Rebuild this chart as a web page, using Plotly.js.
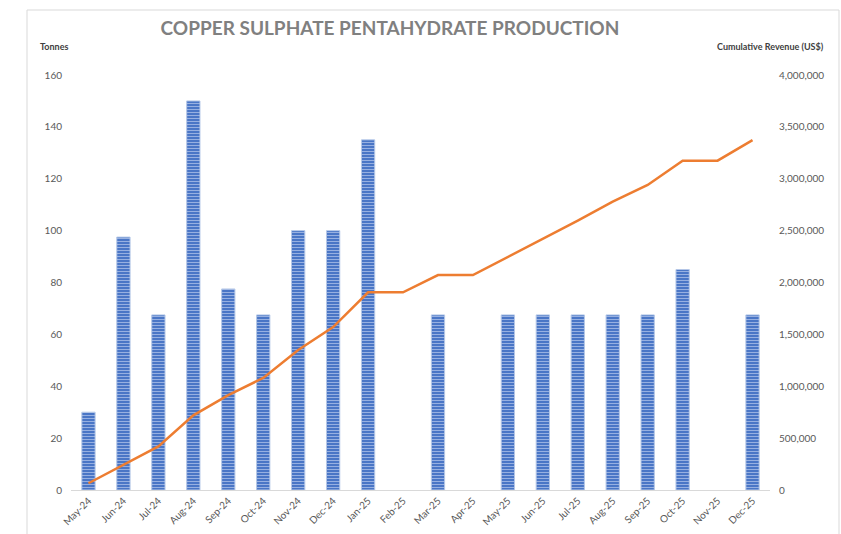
<!DOCTYPE html>
<html>
<head>
<meta charset="utf-8">
<script src="https://cdn.plot.ly/plotly-3.0.1.min.js"></script>
<style>
  html, body { margin: 0; padding: 0; background: #fff; }
  #grafica { width: 841px; height: 534px; }
</style>
</head>
<body>
<div id="grafica"></div>
<script>
// Datos
const meses = ['May-24', 'Jun-24', 'Jul-24', 'Aug-24', 'Sep-24', 'Oct-24', 'Nov-24', 'Dec-24', 'Jan-25', 'Feb-25',
               'Mar-25', 'Apr-25', 'May-25', 'Jun-25', 'Jul-25', 'Aug-25', 'Sep-25', 'Oct-25', 'Nov-25', 'Dec-25'];
const toneladas = [30, 97.5, 67.5, 150, 77.5, 67.5, 100, 100, 135, 0,
                   67.5, 0, 67.5, 67.5, 67.5, 67.5, 67.5, 85, 0, 67.5];
const ingresoAcumulado = [65000, 240000, 420000, 720000, 915000, 1080000, 1350000, 1570000, 1905000, 1905000,
                          2072000, 2072000, 2245000, 2420000, 2596000, 2779000, 2940000, 3174000, 3174000, 3373000];

const gris = '#595959';
const fuente = 'Lato, "Open Sans", sans-serif';

const traceBarras = {
    type: 'bar',
    x: meses, y: toneladas,
    width: 0.38,
    marker: {
        color: '#4a76c6',
        // sin borde en los meses sin produccion
        line: { color: '#b4c7e7', width: toneladas.map(v => v > 0 ? 1 : 0) },
        pattern: { shape: '-', bgcolor: '#4a76c6', fgcolor: '#9fb7e4', size: 3, solidity: 0.3 }
    },
    name: 'Tonnes',
    hoverinfo: 'x+y'
};

const traceLinea = {
    type: 'scatter', mode: 'lines',
    x: meses, y: ingresoAcumulado,
    yaxis: 'y2',
    line: { color: '#ED7D31', width: 2.5 },
    name: 'Cumulative Revenue (US$)'
};

const layout = {
    width: 841, height: 534,
    margin: { l: 71, r: 71, t: 75, b: 44 },
    paper_bgcolor: '#fff', plot_bgcolor: '#fff',
    showlegend: false,
    font: { family: fuente, color: gris, size: 10 },
    title: {
        text: 'COPPER SULPHATE PENTAHYDRATE PRODUCTION',
        font: { family: fuente, size: 19, color: '#808080', weight: 'bold' },
        x: 0.4637, xanchor: 'center', y: 0.947, yanchor: 'middle'
    },
    bargap: 0.62,
    xaxis: {
        type: 'category',
        range: [-0.5, 19.5],
        showgrid: false, zeroline: false,
        showline: true, linecolor: '#d9d9d9', linewidth: 1,
        ticks: '', tickangle: -45,
        tickfont: { family: fuente, size: 10, color: gris }
    },
    yaxis: {
        range: [0, 160], dtick: 20,
        showgrid: false, zeroline: false, showline: false,
        ticks: '', ticklabelstandoff: 8,
        tickfont: { family: fuente, size: 10, color: gris }
    },
    yaxis2: {
        overlaying: 'y', side: 'right',
        range: [0, 4000000], dtick: 500000, tickformat: ',',
        showgrid: false, zeroline: false, showline: false,
        ticks: '', ticklabelstandoff: 8,
        tickfont: { family: fuente, size: 10, color: gris }
    },
    annotations: [
        { text: '<b>Tonnes</b>', xref: 'paper', yref: 'paper', x: (38 - 71) / 699, y: (490 - 47) / 415,
          xanchor: 'left', yanchor: 'middle', showarrow: false, font: { family: fuente, size: 9, color: '#404040' } },
        { text: '<b>Cumulative Revenue (US$)</b>', xref: 'paper', yref: 'paper', x: (826 - 71) / 699, y: (490 - 47) / 415,
          xanchor: 'right', yanchor: 'middle', showarrow: false, font: { family: fuente, size: 9, color: '#404040' } }
    ],
    shapes: [
        { type: 'rect', xref: 'paper', yref: 'paper', layer: 'below',
          x0: (27 - 71) / 699, x1: (839 - 71) / 699, y0: -0.2, y1: (490 - 10) / 415,
          line: { color: '#d9d9d9', width: 1 }, fillcolor: 'rgba(0,0,0,0)' }
    ]
};

Plotly.newPlot('grafica', [traceBarras, traceLinea], layout, { displayModeBar: false, staticPlot: true });
</script>
</body>
</html>
